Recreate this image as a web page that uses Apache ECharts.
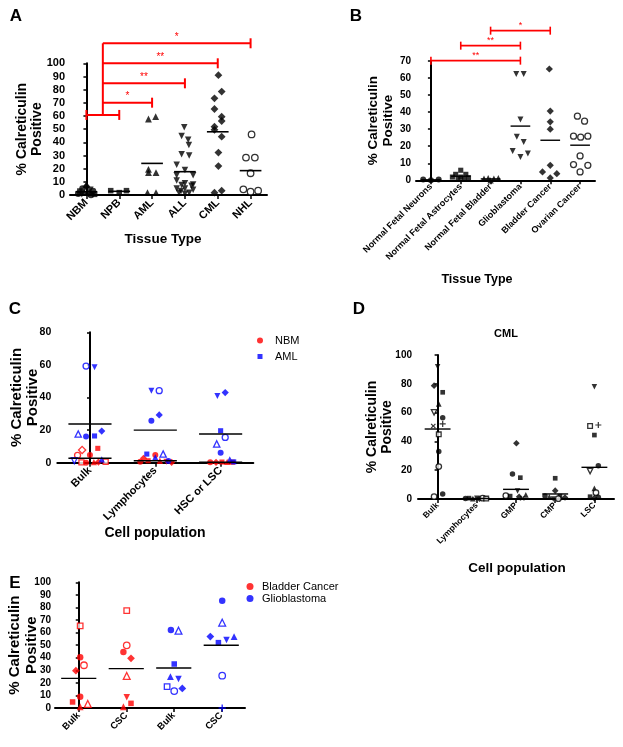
<!DOCTYPE html>
<html><head><meta charset="utf-8">
<script src="https://cdn.jsdelivr.net/npm/echarts/dist/echarts.min.js"></script>
<style>html,body{margin:0;padding:0;background:#fff}#chart{width:623px;height:747px}</style>
</head><body><div id="chart"></div>
<script>
// ---------------- DATA ----------------
// Panel A
const aCategories = ['NBM', 'NPB', 'AML', 'ALL', 'CML', 'NHL'];
const aValues = [
  [8, 6.5, 5, 4, 3, 3, 2, 1.5, 1, 0.5, 0.5, 0],
  [3.3, 1.8, 3.3],
  [57.7, 59.5, 19.5, 17, 17, 1.8, 1.8],
  [51.4, 44.8, 42, 38, 31, 30, 23, 19, 15, 15, 11, 9, 8, 7.6, 7, 5, 5, 4, 3, 1.8, 1.8, 1],
  [91, 78.5, 73.4, 65.3, 59.5, 56.2, 51.9, 49.5, 44.3, 32.2, 22, 1.8, 3.3],
  [46, 28.4, 28.4, 16.5, 4.3, 2.5, 3.3]
];
const aJitter = [
  [0, 0, -0.12, 0.12, -0.2, 0.2, -0.07, 0.07, -0.25, 0.25, -0.14, 0.14],
  [-0.26, 0, 0.22],
  [-0.11, 0.11, -0.11, -0.11, 0.12, -0.14, 0.12],
  [-0.02, -0.1, 0.1, 0.12, -0.1, 0.13, -0.25, 0, -0.25, 0.25, -0.25, 0, 0.25, -0.1, 0.2, -0.25, 0, 0.25, -0.12, -0.18, 0.13, 0],
  [0.02, 0.12, -0.1, -0.1, 0.12, 0.12, -0.1, -0.1, 0.12, 0.02, 0.02, -0.1, 0.12],
  [0.03, -0.14, 0.13, 0, -0.22, 0, 0.23]
];
const aMarkers = [
  ['t','d','o','v','s','o','t','d','o','s','v','o'],
  ['s','s','s'],
  ['t','t','t','t','t','t','t'],
  Array(22).fill('v'),
  Array(13).fill('d'),
  Array(7).fill('O')
];
const aMeans = [2.5, 2.8, 24, 17.7, 48, 18.5];
const aGroupBracket = [[0, 1, 60.8]];
const aStem = [[0.5, 60.8, 115.2]];
const aComparisons = [[0.5, 2, 70.1], [0.5, 3, 84.8], [0.5, 4, 100], [0.5, 5, 115.2]];
const aStars = ['*', '**', '**', '*'];

// Panel B
const bCategories = ['Normal Fetal Neurons', 'Normal Fetal Astrocytes', 'Normal Fetal Bladder', 'Glioblastoma', 'Bladder Cancer', 'Ovarian Cancer'];
const bValues = [
  [0.4, 0.1, 0.4],
  [5.9, 3.5, 3.5, 1.9, 1.9, 1.5, 0.6, 0.6],
  [1, 1.2, 1, 1.2, 0],
  [62.3, 62.3, 35.7, 25.5, 22.5, 17.2, 13.7, 15.7],
  [65.3, 40.6, 34.3, 30, 8.8, 4.9, 3.9, 1.4],
  [37.6, 34.7, 25.9, 25.3, 25.9, 14.3, 9.2, 8.8, 4.9]
];
const bJitter = [
  [-0.26, 0, 0.26],
  [0, -0.17, 0.17, -0.28, 0, 0.26, -0.09, 0.11],
  [-0.22, -0.08, 0.11, 0.26, 0],
  [-0.14, 0.11, 0, -0.12, 0.11, -0.26, 0, 0.25],
  [-0.03, 0, 0, 0, 0, -0.26, 0.22, 0],
  [-0.09, 0.15, -0.22, 0.02, 0.26, 0, -0.22, 0.26, 0]
];
const bMarkers = [
  Array(3).fill('o'), Array(8).fill('s'), Array(5).fill('t'),
  Array(8).fill('v'), Array(8).fill('d'), Array(9).fill('O')
];
const bMeans = [0.3, 2.4, 0.8, 31.8, 23.5, 20.6];
const bComparisons = [[0, 3, 70.2], [1, 3, 79], [2, 4, 87.8]];
const bStars = ['**', '**', '*'];

// Panel C
const cCategories = ['Bulk', 'Lymphocytes', 'HSC or LSC'];
const cNbmValues = [
  [4.5, 7.8, 4.7, 8.8, 0.2, 0.6, 0, 0.4, 0.4],
  [4.7, 2.7, 0.6, 1.2, 1.2, 0.6, 0.2],
  [0.3, 0.2, 0.4, 0.5, 0.3]
];
const cNbmJitter = [
  [-0.19, -0.12, 0, 0.12, -0.13, 0.24, -0.06, 0.06, 0.13],
  [0, -0.18, -0.23, -0.11, 0.07, 0.17, 0.25],
  [-0.16, -0.07, 0.02, 0.1, 0.18]
];
const cNbmMarkers = [
  ['O','D','o','s','S','S','o','t','d'],
  ['o','d','o','s','t','v','d'],
  ['o','d','s','t','s']
];
const cNbmMeans = [2.7, 1.2, 0.3];
const cAmlValues = [
  [59.3, 58.5, 17.6, 16, 16.4, 19.4, 1.2, 2],
  [44.2, 44.2, 25.8, 29.3, 5.3, 5.3, 3.3, 1],
  [40.9, 43, 19.6, 11.5, 15.5, 6.1, 2, 0.5]
];
const cAmlJitter = [
  [-0.06, 0.07, -0.18, -0.06, 0.07, 0.18, -0.24, 0.18],
  [-0.06, 0.06, -0.06, 0.06, -0.13, 0.12, 0, 0.2],
  [-0.05, 0.07, 0, -0.06, 0.07, 0, 0.14, 0.2]
];
const cAmlMarkers = [
  ['O','v','T','o','s','d','V','t'],
  ['v','O','o','d','s','T','t','o'],
  ['v','d','s','T','O','o','t','s']
];
const cAmlMeans = [23.7, 20, 17.6];

// Panel D
const dCategories = ['Bulk', 'Lymphocytes', 'GMP', 'CMP', 'LSC'];
const dValues = [
  [91.9, 78.7, 74.1, 66, 60.2, 56.5, 50.7, 52.1, 44.9, 32.9, 22.5, 1.6, 3.5],
  [0.3, 0.6, 0.2, 0.5, 0.2, 0.6, 0.3],
  [38.7, 17.4, 14.8, 2.3, 5.5, 2.8, 2, 1.5, 0.5],
  [14.4, 5.8, 2, 1.5, 0, 2, 1, 0.2],
  [78, 50.7, 51.4, 44.4, 23.1, 19.4, 7.4, 4.4, 1.6, 0.6, 1.2]
];
const dJitter = [
  [0, -0.09, 0.13, 0.03, -0.09, 0.13, -0.11, 0.13, 0.03, 0.03, 0.03, -0.09, 0.13],
  [-0.29, -0.2, -0.1, 0, 0.07, 0.15, 0.24],
  [0.01, -0.09, 0.11, -0.26, 0.04, 0.25, -0.15, 0.08, 0.16],
  [0, 0, -0.26, -0.15, -0.05, 0.12, 0.25, 0.08],
  [0, -0.11, 0.1, 0, 0.1, -0.11, 0, 0.04, -0.11, 0, 0.1]
];
const dMarkers = [
  ['v','d','s','t','V','o','x','+','S','o','O','O','o'],
  ['o','s','t','v','d','O','S'],
  ['d','o','s','O','v','t','s','d','x'],
  ['s','d','o','t','v','s','d','O'],
  ['v','S','+','s','o','V','t','O','s','d','o']
];
const dMeans = [48.6, 0.4, 6.7, 3.5, 22];

// Panel E
const eCategories = ['Bulk', 'CSC', 'Bulk', 'CSC'];
const eBladderValues = [
  [65.3, 40.3, 34, 29.7, 9, 4.8, 3.2, 1],
  [77.5, 49.9, 44.6, 39.5, 25.5, 8.5, 3.7, 1]
];
const eBladderJitter = [
  [0.03, 0.03, 0.11, -0.06, 0.03, -0.13, 0.19, 0.03],
  [0.01, 0.01, -0.06, 0.1, 0.01, 0.01, 0.1, -0.06]
];
const eBladderMarkers = [
  ['S','o','O','d','o','s','T','t'],
  ['S','O','o','d','T','v','s','t']
];
const eBladderMeans = [23.6, 31.3];
const eGlioValues = [
  [62.1, 61.5, 35, 24.9, 23.1, 17, 13.5, 15.6],
  [85.4, 67.9, 56.8, 52, 54.1, 56.8, 25.7, 0]
];
const eGlioJitter = [
  [-0.06, 0.1, 0.01, -0.07, 0.1, -0.14, 0.01, 0.18],
  [0.02, 0.02, -0.23, -0.06, 0.11, 0.27, 0.02, 0.02]
];
const eGlioMarkers = [
  ['o','T','s','t','v','S','O','d'],
  ['o','T','d','s','v','t','O','+']
];
const eGlioMeans = [31.8, 49.9];

// ---------------- STYLE / BUILDERS ----------------
const FONT = '"Liberation Sans", Arial, Helvetica, sans-serif';
const RED = '#ff0000', BLUE = '#0000ff', BLACK = '#000000';
const PLUS = 'path://M4,0H6V4H10V6H6V10H4V6H0V4H4Z';
const SQUARE = 'path://M0,0H10V10H0Z';
const SHAPES = {
  o: ['circle', 1], s: ['rect', 0.85], t: ['triangle', 1.05],
  v: ['path://M0,0L10,0L5,9Z', 1.0], d: ['diamond', 1.2],
  '+': [PLUS, 1.1], x: [PLUS, 1.1]
};
function markerStyle(code, color, size) {
  const key = code.toLowerCase();
  const open = code !== key;
  const sh = SHAPES[key];
  const st = { symbol: sh[0], symbolSize: size * sh[1] };
  if (key === 'x') st.symbolRotate = 45;
  st.itemStyle = open ? { color: '#ffffff', borderColor: color, borderWidth: 1.3 }
                      : { color: color, borderWidth: 0 };
  return st;
}
function points(values, jitter, markers, catStart, color, size) {
  const out = [];
  values.forEach(function (arr, i) {
    arr.forEach(function (v, j) {
      out.push(Object.assign({ value: [catStart + i + jitter[i][j], v] }, markerStyle(markers[i][j], color, size)));
    });
  });
  return out;
}
function scatter(name, xi, yi, data, color) {
  return { name: name, type: 'scatter', xAxisIndex: xi, yAxisIndex: yi, data: data, clip: false,
    itemStyle: { color: color }, z: 3, silent: true };
}
function meanSeries(xi, yi, means, catStart, half, lw) {
  const rows = means.map(function (m, i) { return [catStart + i, m]; });
  return { type: 'custom', xAxisIndex: xi, yAxisIndex: yi, clip: false, silent: true, z: 5, data: rows,
    renderItem: function (params, api) {
      const a = api.coord([api.value(0) - half, api.value(1)]);
      const b = api.coord([api.value(0) + half, api.value(1)]);
      return { type: 'line', shape: { x1: a[0], y1: a[1], x2: b[0], y2: b[1] },
        style: { stroke: BLACK, lineWidth: lw } };
    } };
}
function bracketSeries(xi, yi, rows, stars, opt) {
  return { type: 'custom', xAxisIndex: xi, yAxisIndex: yi, clip: false, silent: true, z: 6, data: rows,
    renderItem: function (params, api) {
      const y = api.value(2);
      const p1 = api.coord([api.value(0), y]);
      const p2 = api.coord([api.value(1), y]);
      const st = { stroke: RED, lineWidth: opt.lw };
      const c = opt.cap;
      const ch = [{ type: 'line', shape: { x1: p1[0], y1: p1[1], x2: p2[0], y2: p2[1] }, style: st }];
      if (opt.leftCap) ch.push({ type: 'line', shape: { x1: p1[0], y1: p1[1] - c, x2: p1[0], y2: p1[1] + c }, style: st });
      ch.push({ type: 'line', shape: { x1: p2[0], y1: p2[1] - c, x2: p2[0], y2: p2[1] + c }, style: st });
      const s = stars ? stars[params.dataIndex] : null;
      if (s) ch.push({ type: 'text', x: (p1[0] + p2[0]) / 2, y: p1[1] - 1,
        style: { text: s, fill: RED, fontSize: opt.fs, fontFamily: FONT, align: 'center', verticalAlign: 'bottom' } });
      return { type: 'group', children: ch };
    } };
}
function stemSeries(xi, yi, rows, lw) {
  return { type: 'custom', xAxisIndex: xi, yAxisIndex: yi, clip: false, silent: true, z: 6, data: rows,
    renderItem: function (params, api) {
      const a = api.coord([api.value(0), api.value(1)]);
      const b = api.coord([api.value(0), api.value(2)]);
      return { type: 'line', shape: { x1: a[0], y1: a[1], x2: b[0], y2: b[1] }, style: { stroke: RED, lineWidth: lw } };
    } };
}
function catAxis(gi, cats, fs, margin) {
  return { type: 'category', gridIndex: gi, data: cats, boundaryGap: true, nameMoveOverlap: false,
    axisLine: { show: true, onZero: false, lineStyle: { color: BLACK, width: 2 } },
    axisTick: { show: true, alignWithLabel: true, length: 4, lineStyle: { color: BLACK, width: 1.5 } },
    axisLabel: { interval: 0, rotate: 45, color: BLACK, fontWeight: 'bold', fontSize: fs, fontFamily: FONT, margin: margin },
    splitLine: { show: false } };
}
function hiddenX(gi, n) {
  return { type: 'value', gridIndex: gi, min: -0.5, max: n - 0.5, show: false, splitLine: { show: false } };
}
function yAxis(gi, max, interval, fs, margin, nameGap, nfs) {
  return { type: 'value', gridIndex: gi, min: 0, max: max, interval: interval, nameMoveOverlap: false,
    axisLine: { show: true, lineStyle: { color: BLACK, width: 2 } },
    axisTick: { show: true, length: 3, lineStyle: { color: BLACK, width: 1.5 } },
    axisLabel: { color: BLACK, fontWeight: 'bold', fontSize: fs, fontFamily: FONT, margin: margin },
    splitLine: { show: false },
    name: '% Calreticulin\nPositive', nameLocation: 'middle', nameGap: nameGap, nameRotate: 90,
    nameTextStyle: { fontSize: nfs, fontWeight: 'bold', color: BLACK, fontFamily: FONT, lineHeight: nfs + 1.5 } };
}
function label(text, x, y, fs, weight) {
  return { text: text, left: x, top: y, textAlign: 'center', textVerticalAlign: 'middle', padding: 0,
    textStyle: { fontSize: fs, fontWeight: weight || 'bold', color: BLACK, fontFamily: FONT } };
}
function legendItem(name, icon, left, top, size, pad) {
  return { data: [{ name: name, icon: icon }], left: left, top: top, orient: 'vertical', padding: 0,
    itemWidth: size, itemHeight: size, selectedMode: false,
    textStyle: { fontSize: 11, color: BLACK, fontFamily: FONT, padding: [0, 0, 0, pad] } };
}

const option = {
  animation: false,
  backgroundColor: '#ffffff',
  textStyle: { fontFamily: FONT },
  title: [
    label('A', 16, 16, 17), label('B', 356, 16, 17), label('C', 15, 309, 17),
    label('D', 359, 309, 17), label('E', 15, 583, 17),
    label('Tissue Type', 163, 239, 13.5), label('Tissue Type', 477, 280, 12.5),
    label('Cell population', 155, 533, 14), label('Cell population', 517, 568, 13.5),
    label('CML', 506, 334, 11)
  ],
  legend: [
    legendItem('NBM', 'circle', 257, 335, 6, 7),
    legendItem('AML', SQUARE, 257.5, 351, 5, 7.5),
    legendItem('Bladder Cancer', 'circle', 246.5, 581, 7, 3.5),
    legendItem('Glioblastoma', 'circle', 246.5, 593, 7, 3.5)
  ],
  grid: [
    { left: 70, top: 63.3, width: 197, height: 131.7, outerBoundsMode: 'none', containLabel: false },
    { left: 416, top: 61, width: 179, height: 119.3, outerBoundsMode: 'none', containLabel: false },
    { left: 57.3, top: 332.3, width: 196, height: 130.4, outerBoundsMode: 'none', containLabel: false },
    { left: 418, top: 355, width: 196, height: 144, outerBoundsMode: 'none', containLabel: false },
    { left: 55, top: 582.3, width: 190, height: 125.7, outerBoundsMode: 'none', containLabel: false }
  ],
  xAxis: [
    catAxis(0, aCategories, 11, 6), catAxis(1, bCategories, 9, 5), catAxis(2, cCategories, 11, 6),
    catAxis(3, dCategories, 8.5, 5), catAxis(4, eCategories, 9.5, 6),
    hiddenX(0, aCategories.length), hiddenX(1, bCategories.length), hiddenX(2, cCategories.length),
    hiddenX(3, dCategories.length), hiddenX(4, eCategories.length)
  ],
  yAxis: [
    yAxis(0, 100, 10, 11, 5, 25, 14),
    yAxis(1, 70, 10, 10, 5, 20, 13.5),
    yAxis(2, 80, 20, 10.5, 6, 16, 15),
    yAxis(3, 100, 20, 10, 6, 23, 14),
    yAxis(4, 100, 10, 10, 4, 15, 15)
  ],
  series: [
    // A
    scatter('A', 5, 0, points(aValues, aJitter, aMarkers, 0, BLACK, 6.5), BLACK),
    meanSeries(5, 0, aMeans, 0, 0.33, 1.6),
    bracketSeries(5, 0, aGroupBracket, null, { lw: 2, cap: 5, leftCap: true, fs: 10 }),
    stemSeries(5, 0, aStem, 2),
    bracketSeries(5, 0, aComparisons, aStars, { lw: 2, cap: 5, leftCap: false, fs: 10 }),
    // B
    scatter('B', 6, 1, points(bValues, bJitter, bMarkers, 0, BLACK, 6), BLACK),
    meanSeries(6, 1, bMeans, 0, 0.33, 1.4),
    bracketSeries(6, 1, bComparisons, bStars, { lw: 1.6, cap: 4, leftCap: true, fs: 9 }),
    // C
    scatter('NBM', 7, 2, points(cNbmValues, cNbmJitter, cNbmMarkers, 0, RED, 6), RED),
    scatter('AML', 7, 2, points(cAmlValues, cAmlJitter, cAmlMarkers, 0, BLUE, 6), BLUE),
    meanSeries(7, 2, cAmlMeans, 0, 0.33, 1.4),
    meanSeries(7, 2, cNbmMeans, 0, 0.33, 1.4),
    // D
    scatter('D', 8, 3, points(dValues, dJitter, dMarkers, 0, BLACK, 5.5), BLACK),
    meanSeries(8, 3, dMeans, 0, 0.33, 1.4),
    // E
    scatter('Bladder Cancer', 9, 4, points(eBladderValues, eBladderJitter, eBladderMarkers, 0, RED, 6.5), RED),
    scatter('Glioblastoma', 9, 4, points(eGlioValues, eGlioJitter, eGlioMarkers, 2, BLUE, 6.5), BLUE),
    meanSeries(9, 4, eBladderMeans, 0, 0.37, 1.4),
    meanSeries(9, 4, eGlioMeans, 2, 0.37, 1.4)
  ]
};
const chart = echarts.init(document.getElementById('chart'), null, { renderer: 'canvas' });
chart.setOption(option);
</script></body></html>
